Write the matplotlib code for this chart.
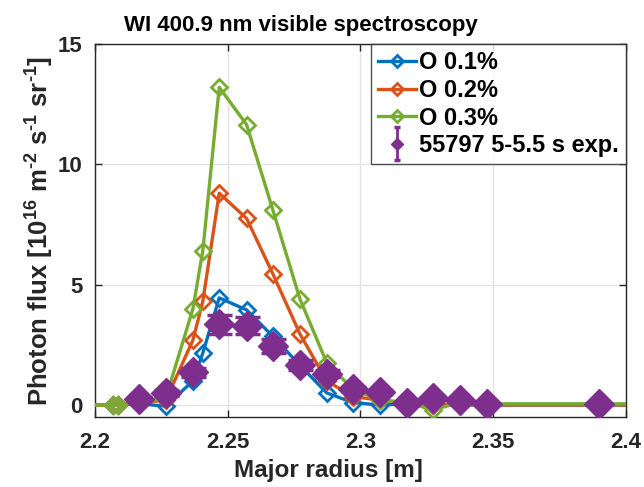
import matplotlib
matplotlib.use("Agg")
import matplotlib.pyplot as plt
from matplotlib.legend_handler import HandlerErrorbar

plt.rcParams['font.family'] = ['Liberation Sans', 'DejaVu Sans']
plt.rcParams['font.weight'] = 'bold'
plt.rcParams['axes.labelweight'] = 'bold'
plt.rcParams['axes.titleweight'] = 'bold'
plt.rcParams['mathtext.fontset'] = 'custom'
plt.rcParams['mathtext.rm'] = 'Liberation Sans:bold'
plt.rcParams['mathtext.bf'] = 'Liberation Sans:bold'
plt.rcParams['mathtext.it'] = 'Liberation Sans:bold'
plt.rcParams['mathtext.default'] = 'rm'

# Simulation radial grid [m]
x_sim = [2.195, 2.2068, 2.2087, 2.2166, 2.2267, 2.2369, 2.2406, 2.2468, 2.2571,
         2.2670, 2.2772, 2.2873, 2.2972, 2.3073, 2.3174, 2.3273, 2.3375, 2.3475,
         2.3900, 2.405]
o01 = [0, 0, 0, 0.05, -0.05, 1.0, 2.15, 4.45, 3.95, 2.85, 1.65, 0.5, 0.1, 0.0,
       0.05, 0.0, 0.0, 0.0, 0.0, 0.0]
o02 = [0, 0, 0, 0.1, 0.2, 2.7, 4.3, 8.8, 7.75, 5.45, 2.95, 1.0, 0.35, 0.2,
       0.1, 0.0, 0.05, 0.0, 0.0, 0.0]
o03 = [0, 0, 0, 0.1, 0.3, 4.0, 6.4, 13.2, 11.65, 8.1, 4.4, 1.75, 0.65, 0.2,
       0.1, -0.2, 0.1, 0.05, 0.05, 0.05]

# Experiment 55797, 5-5.5 s
x_exp = [2.2166, 2.2267, 2.2369, 2.2468, 2.2571, 2.2670, 2.2772, 2.2873, 2.2972,
         2.3073, 2.3174, 2.3273, 2.3375, 2.3475, 2.3900]
y_exp = [0.25, 0.5, 1.35, 3.35, 3.3, 2.45, 1.65, 1.3, 0.65, 0.55, 0.1, 0.3, 0.2,
         0.05, 0.05]
e_exp = [0.1, 0.12, 0.2, 0.38, 0.35, 0.28, 0.2, 0.15, 0.08, 0.08, 0.03, 0.04,
         0.03, 0.02, 0.02]

labels = ['O 0.1%', 'O 0.2%', 'O 0.3%', '55797 5-5.5 s exp.']
colors = ['#0072BD', '#D95319', '#77AC30', '#7E2F8E']

fig = plt.figure(figsize=(6.44, 4.87), dpi=100)
ax = fig.add_axes([0.1475, 0.1437, 0.8245, 0.766])

handles = []
for ys, c, lab in zip([o01, o02, o03], colors[:3], labels[:3]):
    h, = ax.plot(x_sim, ys, '-', color=c, lw=2.4, marker='D', ms=8,
                 mfc='none', mec=c, mew=2.0, label=lab, zorder=3)
    handles.append(h)

eb = ax.errorbar(x_exp, y_exp, yerr=e_exp, fmt='D', color=colors[3], ms=15,
                 mfc=colors[3], mec=colors[3], elinewidth=2.5, capsize=9,
                 capthick=2.5, label=labels[3], zorder=4)
handles.append(eb)

ax.set_xlim(2.2, 2.4)
ax.set_ylim(-0.5, 15)
ax.set_xticks([2.2, 2.25, 2.3, 2.35, 2.4])
ax.set_xticklabels(['2.2', '2.25', '2.3', '2.35', '2.4'])
ax.set_yticks([0, 5, 10, 15])
ax.grid(True, color='#e3e3e3', lw=1.0, zorder=0)
ax.set_axisbelow(True)
ax.tick_params(direction='in', top=True, right=True, length=5, width=1,
               labelsize=16, colors='#262626')
ax.tick_params(axis='x', pad=11)
ax.tick_params(axis='y', pad=9)
for s in ax.spines.values():
    s.set_color('#262626')
    s.set_linewidth(1.0)

ax.set_xlabel('Major radius [m]', fontsize=17.5, color='#262626', labelpad=4,
              x=0.44)
ax.set_ylabel(r'Photon flux [10$^{16}$ m$^{\text{-}2}$ s$^{\text{-}1}$ sr$^{\text{-}1}$]',
              fontsize=18.5, color='#262626', labelpad=1)
ax.set_title('WI 400.9 nm visible spectroscopy', fontsize=16, color='black',
             x=0.388, pad=9)


class SmallErr(HandlerErrorbar):
    def create_artists(self, legend, orig_handle, xdescent, ydescent, width,
                       height, fontsize, trans):
        arts = super().create_artists(legend, orig_handle, xdescent, ydescent,
                                      width, height, fontsize, trans)
        for a in arts:
            if hasattr(a, 'set_markersize'):
                if a.get_marker() == 'D':
                    a.set_markersize(6)
                else:
                    a.set_markersize(4)
            try:
                a.set_linewidth(2.0)
            except Exception:
                pass
        return arts


leg = ax.legend(handles=handles, labels=labels, loc='upper right', fontsize=17,
                frameon=True, fancybox=False, edgecolor='#262626',
                handlelength=1.6, handletextpad=0.15, borderpad=0.3,
                labelspacing=0.2, markerscale=0.75, borderaxespad=0.0,
                handler_map={type(eb): SmallErr(xerr_size=0.2, yerr_size=0.7)})
leg.get_frame().set_linewidth(1.0)
leg.set_zorder(10)

fig.savefig('out.png', dpi=100)
